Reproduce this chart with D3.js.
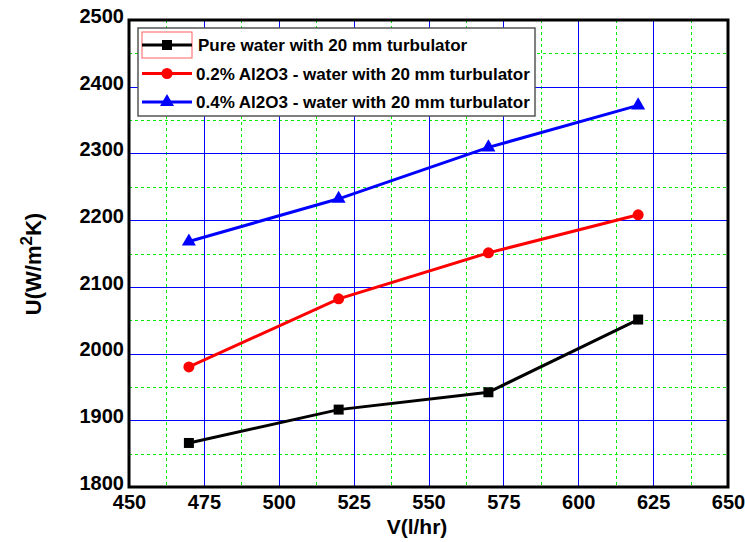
<!DOCTYPE html>
<html lang="en">
<head>
  <meta charset="UTF-8">
  <title>U vs V</title>
  <script src="https://cdnjs.cloudflare.com/ajax/libs/d3/7.6.1/d3.min.js"></script>
  <style>
    body { margin: 0; background: #fff; }
    text { font-family: "Liberation Sans", Arial, sans-serif; font-weight: bold; }
    .major { stroke: #0000ff; stroke-width: 1px; }
    .minor { stroke: #00ee00; stroke-width: 1px; stroke-dasharray: 3,3; }
  </style>
</head>
<body>
<div id="wrapper"></div>
<script>
const flowRates = [470, 520, 570, 620];
const pureWater = [1866, 1916, 1942, 2051];
const al2o3_02 = [1980, 2082, 2151, 2208];
const al2o3_04 = [2168, 2232, 2309, 2372];
const seriesNames = [
  "Pure water with 20 mm turbulator",
  "0.2% Al2O3 - water with 20 mm turbulator",
  "0.4% Al2O3 - water with 20 mm turbulator"
];
const xTicks = [450, 475, 500, 525, 550, 575, 600, 625, 650];
const yTicks = [1800, 1900, 2000, 2100, 2200, 2300, 2400, 2500];

const series = [
  { name: seriesNames[0], values: pureWater, color: "#000000", symbol: d3.symbolSquare, size: 100 },
  { name: seriesNames[1], values: al2o3_02, color: "#ff0000", symbol: d3.symbolCircle, size: 95 },
  { name: seriesNames[2], values: al2o3_04, color: "#0000ff", symbol: d3.symbolTriangle, size: 85 }
];

const dimension = {
  width: 745, height: 542,
  margin: { top: 20, right: 17, bottom: 55, left: 129 }
};
dimension.boundedWidth = dimension.width - dimension.margin.left - dimension.margin.right;
dimension.boundedHeight = dimension.height - dimension.margin.top - dimension.margin.bottom;

const svg = d3.select("#wrapper").append("svg")
  .attr("width", dimension.width)
  .attr("height", dimension.height);

const bounds = svg.append("g")
  .attr("transform", `translate(${dimension.margin.left},${dimension.margin.top})`);

const x = d3.scaleLinear().domain([450, 650]).range([0, dimension.boundedWidth]);
const y = d3.scaleLinear().domain([1800, 2500]).range([dimension.boundedHeight, 0]);

// minor grid (green dashed, midway between ticks)
const xMinor = xTicks.slice(0, -1).map(v => v + 12.5);
const yMinor = yTicks.slice(0, -1).map(v => v + 50);

bounds.selectAll(".minorx").data(xMinor).enter().append("line")
  .attr("class", "minor")
  .attr("x1", d => Math.round(x(d)) + 0.5).attr("x2", d => Math.round(x(d)) + 0.5)
  .attr("y1", 0).attr("y2", dimension.boundedHeight);
bounds.selectAll(".minory").data(yMinor).enter().append("line")
  .attr("class", "minor")
  .attr("y1", d => Math.round(y(d)) + 0.5).attr("y2", d => Math.round(y(d)) + 0.5)
  .attr("x1", 0).attr("x2", dimension.boundedWidth);

// major grid (blue)
bounds.selectAll(".majorx").data(xTicks.slice(1, -1)).enter().append("line")
  .attr("class", "major")
  .attr("x1", d => Math.round(x(d)) + 0.5).attr("x2", d => Math.round(x(d)) + 0.5)
  .attr("y1", 0).attr("y2", dimension.boundedHeight);
bounds.selectAll(".majory").data(yTicks.slice(1, -1)).enter().append("line")
  .attr("class", "major")
  .attr("y1", d => Math.round(y(d)) + 0.5).attr("y2", d => Math.round(y(d)) + 0.5)
  .attr("x1", 0).attr("x2", dimension.boundedWidth);

// axes (labels only)
const xAxis = bounds.append("g")
  .attr("transform", `translate(0,${dimension.boundedHeight})`)
  .call(d3.axisBottom(x).tickValues(xTicks).tickFormat(d3.format("d")).tickSize(0).tickPadding(8));
const yAxis = bounds.append("g")
  .call(d3.axisLeft(y).tickValues(yTicks).tickFormat(d3.format("d")).tickSize(0).tickPadding(5));
[xAxis, yAxis].forEach(a => {
  a.select(".domain").remove();
  a.selectAll("text").style("font-size", "20px").style("font-family", "'Liberation Sans', Arial, sans-serif").style("font-weight", "bold").attr("fill", "#000");
});
yAxis.selectAll("text").attr("dy", "0.12em");

// series
const line = d3.line().x((d, i) => x(flowRates[i])).y(d => y(d));
series.forEach(s => {
  bounds.append("path")
    .attr("d", line(s.values))
    .attr("fill", "none")
    .attr("stroke", s.color)
    .attr("stroke-width", 3);
  bounds.selectAll(null).data(s.values).enter().append("path")
    .attr("d", d3.symbol().type(s.symbol).size(s.size))
    .attr("transform", (d, i) => `translate(${x(flowRates[i])},${y(d)})`)
    .attr("fill", s.color);
});

// frame
bounds.append("rect")
  .attr("width", dimension.boundedWidth).attr("height", dimension.boundedHeight)
  .attr("fill", "none").attr("stroke", "#000").attr("stroke-width", 3);

// axis titles
svg.append("text")
  .attr("x", 417)
  .attr("y", 534)
  .attr("text-anchor", "middle")
  .style("font-size", "21px")
  .text("V(l/hr)");

const yTitle = svg.append("text")
  .attr("transform", "translate(41,264) rotate(-90)")
  .attr("text-anchor", "middle")
  .style("font-size", "22px");
yTitle.append("tspan").text("U(W/m");
yTitle.append("tspan").attr("dy", -9).style("font-size", "17px").text("2");
yTitle.append("tspan").attr("dy", 9).text("K)");

// legend
const legend = svg.append("g").attr("transform", "translate(138,28)");
legend.append("rect")
  .attr("width", 397).attr("height", 88)
  .attr("fill", "#fff").attr("stroke", "#555").attr("stroke-width", 1.5);
legend.append("rect")
  .attr("x", 4).attr("y", 4).attr("width", 50).attr("height", 26)
  .attr("fill", "none").attr("stroke", "#ff6060").attr("stroke-width", 1);
series.forEach((s, i) => {
  const g = legend.append("g").attr("transform", `translate(0,${17 + i * 28.5})`);
  g.append("line").attr("x1", 4).attr("x2", 54).attr("y1", 0).attr("y2", 0)
    .attr("stroke", s.color).attr("stroke-width", 3);
  g.append("path").attr("d", d3.symbol().type(s.symbol).size(s.size))
    .attr("transform", "translate(29,0)").attr("fill", s.color);
  g.append("text").attr("x", i === 0 ? 60 : 58).attr("y", 6)
    .style("font-size", "17px").attr("fill", "#000").text(s.name);
});
</script>
</body>
</html>
